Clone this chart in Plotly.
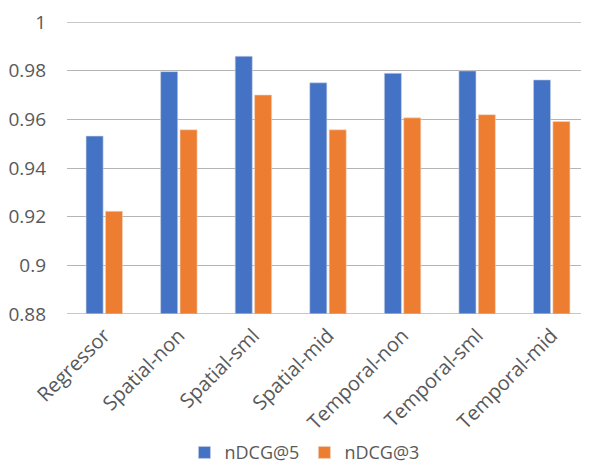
import plotly.graph_objects as go

categories = ["Regressor", "Spatial-non", "Spatial-sml", "Spatial-mid",
              "Temporal-non", "Temporal-sml", "Temporal-mid"]
ndcg5 = [0.9531, 0.9796, 0.9859, 0.9750, 0.9789, 0.9799, 0.9762]
ndcg3 = [0.9222, 0.9557, 0.9700, 0.9557, 0.9606, 0.9619, 0.9591]
y_ticks = [0.88, 0.9, 0.92, 0.94, 0.96, 0.98, 1]
y_tick_text = ["0.88", "0.9", "0.92", "0.94", "0.96", "0.98", "1"]

fig = go.Figure()
fig.add_trace(go.Bar(name="nDCG@5", x=categories, y=ndcg5,
                     marker=dict(color="#4472C4", line=dict(color="#c9d3e6", width=0.6))))
fig.add_trace(go.Bar(name="nDCG@3", x=categories, y=ndcg3,
                     marker=dict(color="#ED7D31", line=dict(color="#f0d5c2", width=0.6))))

fig.update_layout(
    width=581, height=458,
    margin=dict(l=59, r=0, t=14, b=152, autoexpand=False),
    paper_bgcolor="white", plot_bgcolor="white",
    barmode="group", bargap=0.48, bargroupgap=0.12,
    font=dict(family="Open Sans", size=18, color="#595959"),
    showlegend=True,
    legend=dict(orientation="h", x=0.225, xanchor="left", y=-0.475, yanchor="middle",
                font=dict(size=18, color="#595959"), itemwidth=30,
                traceorder="normal"),
    xaxis=dict(tickangle=-45, showgrid=False, showline=False, ticks="",
               ticklabelshift=0, ticklabelstandoff=5,
               tickfont=dict(size=20, color="#595959")),
    yaxis=dict(range=[0.88, 1.0], tickvals=y_ticks, ticktext=y_tick_text,
               showgrid=True, gridcolor="#b4b4b4", gridwidth=1.4,
               zeroline=False, showline=False, ticks="", ticklabelstandoff=20,
               ticklabeloverflow="allow",
               tickfont=dict(size=19, color="#595959")),
)
fig.add_hline(y=0.88, line=dict(color="#b4b4b4", width=1.5))
fig.add_hline(y=1.0, line=dict(color="#b4b4b4", width=1.4), layer="below")

fig.write_html("out.html")
